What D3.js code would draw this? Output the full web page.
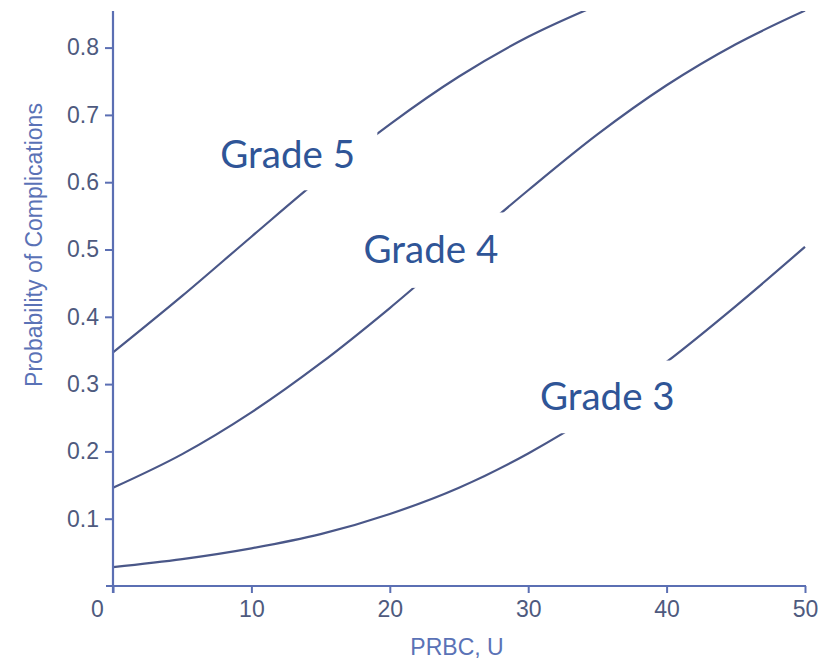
<!DOCTYPE html>
<html><head><meta charset="utf-8">
<script src="https://cdn.jsdelivr.net/npm/d3@7"></script>
<style>
body{margin:0;background:#fff;}
svg{display:block;}
</style></head>
<body>
<svg id="chart" width="821" height="662"></svg>
<script>
const prbc = [0, 5, 10, 15, 20, 25, 30, 35, 40, 45, 50];
const grade5 = [0.347, 0.431, 0.519, 0.606, 0.686, 0.757, 0.816, 0.863, null, null, null];
const grade4 = [0.146, 0.196, 0.258, 0.331, 0.413, 0.501, 0.588, 0.671, 0.744, 0.805, 0.855];
const grade3 = [0.028, 0.040, 0.056, 0.077, 0.107, 0.146, 0.197, 0.259, 0.333, 0.416, 0.504];
const seriesNames = ["Grade 5", "Grade 4", "Grade 3"];
const xTicks = [0, 10, 20, 30, 40, 50];
const yTicks = [0.1, 0.2, 0.3, 0.4, 0.5, 0.6, 0.7, 0.8];
// label anchor positions in data units (x, y)
const labelPos = [[7.75, 0.6205], [18.1, 0.4795], [30.85, 0.2615]];
const labelBox = [[6.6, 0.680, 19.1, 0.588], [16.6, 0.555, 28.9, 0.443], [29.9, 0.335, 41.0, 0.227]];

const svg = d3.select("#chart");
const x = d3.scaleLinear().domain([0, 50]).range([113, 805]);
const y = d3.scaleLinear().domain([0, 0.8]).range([586, 47.6]);

const lineColor = "#4a5788";
const axisColor = "#5b6fb3";
const tickTextColor = "#4e5a7e";
const titleColor = "#5a72b6";

svg.append("clipPath").attr("id", "clip").append("rect")
  .attr("x", x(0)).attr("y", 11).attr("width", x(50) - x(0) + 5).attr("height", y(0) - 11);

const line = d3.line()
  .defined(d => d[1] != null)
  .x(d => x(d[0])).y(d => y(d[1]))
  .curve(d3.curveMonotoneX);

const data = [grade5, grade4, grade3];
const g = svg.append("g").attr("clip-path", "url(#clip)");
data.forEach(s => {
  g.append("path")
    .datum(prbc.map((v, i) => [v, s[i]]))
    .attr("fill", "none").attr("stroke", lineColor).attr("stroke-width", 2.2)
    .attr("d", line);
});

// axes
const xAxis = svg.append("g").attr("transform", `translate(0,${y(0)})`)
  .call(d3.axisBottom(x).tickValues(xTicks).tickSize(7).tickPadding(8));
const yAxis = svg.append("g").attr("transform", `translate(${x(0)},0)`)
  .call(d3.axisLeft(y).tickValues(yTicks).tickSize(8).tickPadding(6).tickFormat(d3.format(".1f")));
[xAxis, yAxis].forEach(a => {
  a.select(".domain").remove();
  a.selectAll("line").attr("stroke", axisColor).attr("stroke-width", 2);
  a.selectAll("text").attr("fill", tickTextColor)
    .style("font-family", "'Liberation Sans Narrow','Arial Narrow',sans-serif")
    .style("font-size", "23px");
});
xAxis.selectAll(".tick").filter(d => d === 0).select("text").attr("dx", -16);

svg.append("line").attr("x1", x(0) - 7).attr("x2", x(50) + 1)
  .attr("y1", y(0)).attr("y2", y(0)).attr("stroke", axisColor).attr("stroke-width", 2.2);
svg.append("line").attr("x1", x(0)).attr("x2", x(0))
  .attr("y1", y(0) + 7).attr("y2", 11).attr("stroke", axisColor).attr("stroke-width", 2.2);

// axis titles
svg.append("text").attr("x", 457).attr("y", 655).attr("text-anchor", "middle")
  .attr("fill", titleColor)
  .style("font-family", "'Liberation Sans Narrow','Arial Narrow',sans-serif")
  .style("font-size", "23px").text("PRBC, U");
svg.append("text").attr("transform", `translate(42,${245}) rotate(-90)`)
  .attr("text-anchor", "middle").attr("fill", titleColor)
  .style("font-family", "'Liberation Sans Narrow','Arial Narrow',sans-serif")
  .style("font-size", "23px").text("Probability of Complications");

// labels with white boxes
seriesNames.forEach((name, i) => {
  const b = labelBox[i];
  svg.append("rect").attr("x", x(b[0])).attr("y", y(b[1]))
    .attr("width", x(b[2]) - x(b[0])).attr("height", y(b[3]) - y(b[1]))
    .attr("fill", "#fff");
  svg.append("text").attr("x", x(labelPos[i][0])).attr("y", y(labelPos[i][1]))
    .attr("fill", "#2f5597")
    .style("font-family", "Lato, 'Open Sans', sans-serif")
    .style("font-size", "38.5px").text(name);
});
</script>
</body></html>
